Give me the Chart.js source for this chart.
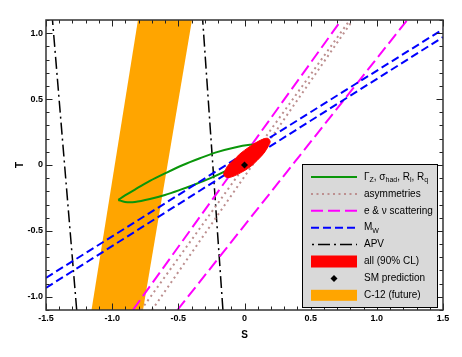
<!DOCTYPE html>
<html><head><meta charset="utf-8">
<script src="https://cdn.jsdelivr.net/npm/chart.js@4/dist/chart.umd.min.js"></script>
<style>html,body{margin:0;padding:0;background:#fff}canvas{display:block}</style>
</head><body>
<canvas id="c" width="462" height="357"></canvas>
<script>
// ---- tick labels ----
const xTickValues = [-1.5, -1, -0.5, 0, 0.5, 1, 1.5];
const xTickLabels = ['-1.5', '-1.0', '-0.5', '0', '0.5', '1.0', '1.5'];
const yTickValues = [-1, -0.5, 0, 0.5, 1];
const yTickLabels = ['-1.0', '-0.5', '0', '0.5', '1.0'];

// ---- Γ_Z, σ_had, R_l, R_q contour ----
const lineshapeS = [-0.954,-0.903,-0.828,-0.715,-0.601,-0.465,-0.337,-0.208,-0.073,0.041,0.101,0.139,
                    0.131,0.079,-0.035,-0.148,-0.261,-0.375,-0.488,-0.601,-0.715,-0.828,-0.903,-0.954];
const lineshapeT = [-0.265,-0.231,-0.186,-0.121,-0.064,0.000,0.051,0.098,0.133,0.153,0.155,0.148,
                    0.125,0.083,0.011,-0.049,-0.102,-0.148,-0.189,-0.227,-0.258,-0.280,-0.280,-0.265];

// ---- asymmetries band ----
const asymLeftS = [-0.782, 0.796];
const asymLeftT = [-1.1, 1.1];
const asymRightS = [-0.699, 0.819];
const asymRightT = [-1.1, 1.1];

// ---- e & nu scattering ----
const scatLeftS = [-0.843, 0.732];
const scatLeftT = [-1.1, 1.1];
const scatRightS = [-0.507, 1.230];
const scatRightT = [-1.1, 1.1];

// ---- M_W ----
const mwUpperS = [-1.5, 1.5];
const mwUpperT = [-0.856, 1.030];
const mwLowerS = [-1.5, 1.5];
const mwLowerT = [-0.932, 0.970];

// ---- APV ----
const apvLeftS = [-1.268, -1.451];
const apvLeftT = [-1.1, 1.1];
const apvRightS = [-0.163, -0.316];
const apvRightT = [-1.1, 1.1];

// ---- all (90% CL) ----
const allS = [-0.158,-0.125,-0.088,-0.035,0.041,0.101,0.147,0.177,0.194,0.181,0.147,0.094,0.041,-0.020,-0.080,-0.125,-0.150,-0.158];
const allT = [-0.064,-0.003,0.031,0.084,0.141,0.178,0.199,0.202,0.178,0.145,0.090,0.033,-0.016,-0.054,-0.084,-0.096,-0.086,-0.064];

// ---- SM prediction ----
const smS = [0];
const smT = [0];

// ---- C-12 (future) ----
const c12S = [-1.156, -0.767, -0.397, -0.805, -1.156];
const c12T = [-1.1, -1.1, 1.1, 1.1, -1.1];

// ---- legend labels (text, subscript flag) ----
const legendLabels = [
  [['\u0393',0],['Z',1],[', \u03C3',0],['had',1],[', R',0],['l',1],[', R',0],['q',1]],
  [['asymmetries',0]],
  [['e & \u03BD scattering',0]],
  [['M',0],['W',1]],
  [['APV',0]],
  [['all (90% CL)',0]],
  [['SM prediction',0]],
  [['C-12 (future)',0]]
];

const zip = (s, t) => s.map((v, i) => ({x: v, y: t[i]}));
const FONT = "'Liberation Sans', Arial, Helvetica, sans-serif";

const C = {
  green: '#0a960a', asym: '#bc8f8f', mag: '#ff00ff', blue: '#0000ff',
  apv: '#000000', red: '#ff0000', orange: '#ffa500'
};
const DASH = { asym: [2, 3.5], mag: [12, 5], blue: [8, 4], apv: [12, 4, 2, 4] };

function lineDs(s, t, color, width, dash, order) {
  return { data: zip(s, t), showLine: true, pointRadius: 0, borderColor: color,
           borderWidth: width, borderDash: dash, fill: false, order: order, tension: 0 };
}

const datasets = [
  { data: zip(smS, smT), pointStyle: 'rectRot', pointRadius: 3.5, backgroundColor: '#000',
    borderColor: '#000', borderWidth: 0, showLine: false, order: 0 },
  { data: zip(allS, allT), showLine: true, pointRadius: 0, borderColor: C.red, borderWidth: 1,
    backgroundColor: C.red, fill: 'shape', tension: 0.3, order: 1 },
  Object.assign(lineDs(lineshapeS, lineshapeT, C.green, 2, [], 3), {tension: 0.3}),
  lineDs(asymLeftS, asymLeftT, C.asym, 2, DASH.asym, 4),
  lineDs(asymRightS, asymRightT, C.asym, 2, DASH.asym, 4),
  lineDs(scatLeftS, scatLeftT, C.mag, 2, DASH.mag, 5),
  lineDs(scatRightS, scatRightT, C.mag, 2, DASH.mag, 5),
  lineDs(mwUpperS, mwUpperT, C.blue, 2, DASH.blue, 2),
  lineDs(mwLowerS, mwLowerT, C.blue, 2, DASH.blue, 2),
  lineDs(apvLeftS, apvLeftT, C.apv, 1.5, DASH.apv, 6),
  lineDs(apvRightS, apvRightT, C.apv, 1.5, DASH.apv, 6),
  { data: zip(c12S, c12T), showLine: true, pointRadius: 0, borderColor: C.orange, borderWidth: 0,
    backgroundColor: C.orange, fill: 'shape', tension: 0, order: 10 }
];

const framePlugin = {
  id: 'frameTicks',
  afterDatasetsDraw(chart) {
    const {ctx, chartArea: a} = chart;
    const xs = chart.scales.x, ys = chart.scales.y;
    ctx.save();
    ctx.strokeStyle = '#222';
    ctx.lineWidth = 1;
    ctx.beginPath();
    for (let i = -15; i <= 15; i++) {
      const px = Math.round(xs.getPixelForValue(i / 10)) + 0.5;
      const len = (i % 5 === 0) ? 6.5 : 3.5;
      ctx.moveTo(px, a.bottom); ctx.lineTo(px, a.bottom - len);
      ctx.moveTo(px, a.top); ctx.lineTo(px, a.top + len);
    }
    for (let i = -11; i <= 11; i++) {
      const py = Math.round(ys.getPixelForValue(i / 10)) + 0.5;
      const len = (i % 5 === 0) ? 6.5 : 3.5;
      ctx.moveTo(a.left, py); ctx.lineTo(a.left + len, py);
      ctx.moveTo(a.right, py); ctx.lineTo(a.right - len, py);
    }
    ctx.stroke();
    ctx.lineWidth = 1.5;
    ctx.strokeStyle = '#333';
    ctx.strokeRect(a.left, a.top, a.right - a.left, a.bottom - a.top);
    ctx.restore();
  }
};

function drawRich(ctx, x, y, parts) {
  let cx = x;
  for (const [txt, sub] of parts) {
    ctx.font = (sub ? '7px ' : '10px ') + FONT;
    ctx.fillText(txt, cx, sub ? y + 3 : y);
    cx += ctx.measureText(txt).width;
  }
}

const legendPlugin = {
  id: 'customLegend',
  afterDraw(chart) {
    const ctx = chart.ctx;
    const bx = 302, by = 164, bw = 135, bh = 143;
    ctx.save();
    ctx.fillStyle = '#d9d9d9';
    ctx.fillRect(bx, by, bw, bh);
    ctx.strokeStyle = '#000';
    ctx.lineWidth = 1;
    ctx.strokeRect(bx + 0.5, by + 0.5, bw, bh);
    const x0 = 311, x1 = 357, tx = 364;
    const rowY = i => 177 + i * 16.9;
    const lineSample = (i, color, w, dash) => {
      ctx.save();
      ctx.strokeStyle = color; ctx.lineWidth = w; ctx.setLineDash(dash);
      ctx.beginPath(); ctx.moveTo(x0, rowY(i)); ctx.lineTo(x1, rowY(i)); ctx.stroke();
      ctx.restore();
    };
    lineSample(0, C.green, 2, []);
    lineSample(1, C.asym, 2, DASH.asym);
    lineSample(2, C.mag, 2, DASH.mag);
    lineSample(3, C.blue, 2, DASH.blue);
    ctx.save();
    ctx.strokeStyle = C.apv; ctx.lineWidth = 1.5; ctx.setLineDash([2, 4, 12, 4]);
    ctx.beginPath(); ctx.moveTo(x0 + 1, rowY(4)); ctx.lineTo(x1, rowY(4)); ctx.stroke();
    ctx.restore();
    ctx.fillStyle = C.red;
    ctx.fillRect(x0, rowY(5) - 6, x1 - x0, 12);
    ctx.fillStyle = '#000';
    const dx = (x0 + x1) / 2, dy = rowY(6);
    ctx.beginPath(); ctx.moveTo(dx, dy - 3.5); ctx.lineTo(dx + 3.5, dy); ctx.lineTo(dx, dy + 3.5); ctx.lineTo(dx - 3.5, dy); ctx.closePath(); ctx.fill();
    ctx.fillStyle = C.orange;
    ctx.fillRect(x0, rowY(7) - 5.5, x1 - x0, 11);
    ctx.fillStyle = '#000';
    ctx.textBaseline = 'middle';
    ctx.textAlign = 'left';
    legendLabels.forEach((parts, i) => drawRich(ctx, tx, rowY(i), parts));
    ctx.restore();
  }
};

new Chart(document.getElementById('c'), {
  type: 'scatter',
  data: { datasets },
  options: {
    responsive: false,
    animation: false,
    devicePixelRatio: 1,
    layout: { padding: { top: 20, right: 19, left: 0, bottom: 0 } },
    plugins: { legend: { display: false }, tooltip: { enabled: false } },
    scales: {
      x: {
        type: 'linear', min: -1.5, max: 1.5,
        grid: { display: false, drawTicks: false },
        border: { display: false },
        afterBuildTicks: s => { s.ticks = xTickValues.map(v => ({value: v})); },
        afterFit: s => { s.height = 47; },
        ticks: {
          padding: 3, color: '#000', font: { family: FONT, size: 9, weight: 'bold' },
          maxRotation: 0, autoSkip: false,
          callback: v => { const i = xTickValues.indexOf(v); return i >= 0 ? xTickLabels[i] : ''; }
        },
        title: { display: true, text: 'S', color: '#000', font: { family: FONT, size: 10, weight: 'bold' },
                 padding: { top: 0, bottom: 16 } }
      },
      y: {
        type: 'linear', min: -1.1, max: 1.1,
        grid: { display: false, drawTicks: false },
        border: { display: false },
        afterBuildTicks: s => { s.ticks = yTickValues.map(v => ({value: v})); },
        afterFit: s => { s.width = 46; },
        ticks: {
          padding: 3, color: '#000', font: { family: FONT, size: 9, weight: 'bold' },
          autoSkip: false,
          callback: v => { const i = yTickValues.indexOf(v); return i >= 0 ? yTickLabels[i] : ''; }
        },
        title: { display: true, text: 'T', color: '#000', font: { family: FONT, size: 10, weight: 'bold' },
                 padding: { top: 14, bottom: 0 } }
      }
    }
  },
  plugins: [framePlugin, legendPlugin]
});
</script>
</body></html>
